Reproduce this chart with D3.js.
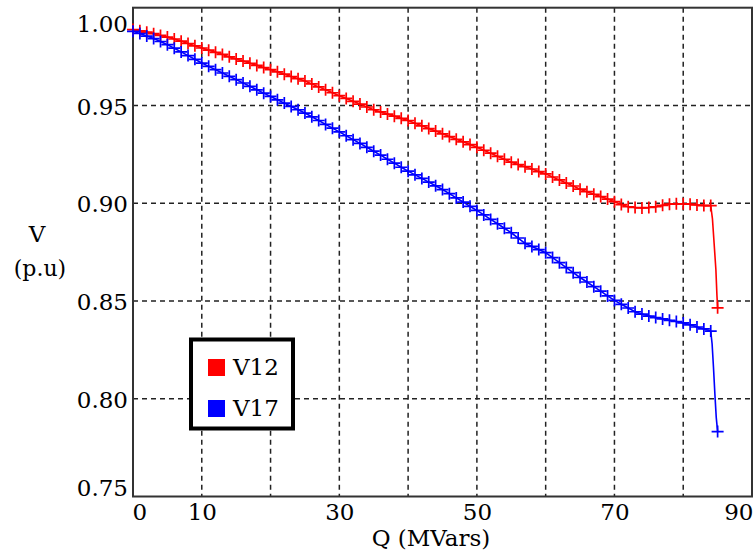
<!DOCTYPE html>
<html>
<head>
<meta charset="utf-8">
<script src="https://cdn.jsdelivr.net/npm/d3@7"></script>
<style>
  html, body { margin: 0; padding: 0; background: #fff; }
  svg { display: block; }
  text { font-family: "DejaVu Serif", serif; fill: #000; }
</style>
</head>
<body>
<svg id="chart" width="756" height="556"></svg>
<script>
// ---- data ----
const qMain = d3.range(0, 85); // 0..84 MVars
const v12 = [
  0.9888,0.9882,0.9875,0.9867,0.9858,0.9850,0.9840,0.9829,0.9817,0.9805,
  0.9794,0.9783,0.9772,0.9761,0.9749,0.9738,0.9727,0.9716,0.9705,0.9694,
  0.9683,0.9672,0.9660,0.9648,0.9637,0.9625,0.9610,0.9595,0.9580,0.9565,
  0.9550,0.9536,0.9521,0.9507,0.9492,0.9478,0.9467,0.9456,0.9445,0.9434,
  0.9423,0.9409,0.9396,0.9382,0.9369,0.9355,0.9341,0.9327,0.9314,0.9300,
  0.9286,0.9271,0.9256,0.9240,0.9225,0.9210,0.9198,0.9187,0.9175,0.9162,
  0.9150,0.9134,0.9119,0.9103,0.9088,0.9072,0.9059,0.9046,0.9034,0.9021,
  0.9008,0.8993,0.8982,0.8978,0.8976,0.8978,0.8982,0.8989,0.8995,0.8997,
  0.8997,0.8995,0.8991,0.8988,0.8988
];
const v17 = [
  0.9879,0.9868,0.9855,0.9842,0.9827,0.9811,0.9793,0.9774,0.9755,0.9736,
  0.9717,0.9700,0.9683,0.9666,0.9649,0.9632,0.9615,0.9598,0.9580,0.9563,
  0.9546,0.9529,0.9512,0.9495,0.9478,0.9461,0.9442,0.9423,0.9403,0.9384,
  0.9365,0.9345,0.9325,0.9306,0.9286,0.9266,0.9246,0.9225,0.9205,0.9184,
  0.9164,0.9145,0.9127,0.9108,0.9089,0.9070,0.9049,0.9027,0.9006,0.8984,
  0.8963,0.8940,0.8917,0.8895,0.8872,0.8849,0.8822,0.8795,0.8779,0.8763,
  0.8747,0.8722,0.8696,0.8671,0.8645,0.8620,0.8597,0.8573,0.8550,0.8526,
  0.8503,0.8483,0.8464,0.8445,0.8433,0.8423,0.8415,0.8408,0.8401,0.8395,
  0.8388,0.8378,0.8367,0.8357,0.8346
];
// collapse segment (no markers except final point)
const qDrop12 = [84, 84.25, 84.5, 84.75, 84.9, 85];
const vDrop12 = [0.8988, 0.892, 0.879, 0.866, 0.853, 0.8465];
const qDrop17 = [84, 84.2, 84.4, 84.6, 84.8, 85];
const vDrop17 = [0.8346, 0.828, 0.816, 0.8026, 0.7905, 0.7832];

const seriesNames = ["V12", "V17"];
const seriesColors = ["#ff0000", "#0000ff"];
const xTicks = [0, 10, 30, 50, 70, 90];
const xGrid = [10, 20, 30, 40, 50, 60, 70, 80];
const yTicks = [0.75, 0.80, 0.85, 0.90, 0.95, 1.00];
const yGrid = [0.80, 0.85, 0.90, 0.95];

// ---- layout ----
const L = 133, R = 752, T = 7.7, B = 496.5;
const svg = d3.select("#chart");
svg.append("rect").attr("width", 756).attr("height", 556).attr("fill", "#fff");

const x = d3.scaleLinear().domain([0, 90]).range([L, R]);
const y = d3.scaleLinear().domain([0.75, 1.0]).range([B, T]);

// grid
const grid = svg.append("g").attr("stroke", "#222").attr("stroke-width", 1.5)
  .attr("stroke-dasharray", "5,4");
grid.selectAll("line.gx").data(xGrid).join("line").attr("class", "gx")
  .attr("x1", d => x(d)).attr("x2", d => x(d)).attr("y1", T).attr("y2", B);
grid.selectAll("line.gy").data(yGrid).join("line").attr("class", "gy")
  .attr("x1", L).attr("x2", R).attr("y1", d => y(d)).attr("y2", d => y(d));

// axes (labels only)
const fs = 23;
const xAxis = svg.append("g").attr("transform", `translate(0,${B})`)
  .call(d3.axisBottom(x).tickValues(xTicks).tickSize(0).tickPadding(7).tickFormat(d3.format("d")));
xAxis.select(".domain").remove();
xAxis.selectAll("text").attr("font-size", fs).attr("font-family", "DejaVu Serif").attr("fill", "#000")
  .each(function(d) {
    const t = d3.select(this);
    if (d === 0) t.attr("text-anchor", "start").attr("x", -1);
    if (d === 90) t.attr("text-anchor", "end").attr("x", 1);
  });

const yAxis = svg.append("g").attr("transform", `translate(${L},0)`)
  .call(d3.axisLeft(y).tickValues(yTicks).tickSize(0).tickPadding(5).tickFormat(d3.format(".2f")));
yAxis.select(".domain").remove();
yAxis.selectAll("text").attr("font-size", fs).attr("font-family", "DejaVu Serif").attr("fill", "#000")
  .attr("dy", "0.38em")
  .each(function(d) {
    const t = d3.select(this);
    if (Math.abs(d - 1.0) < 1e-9) t.attr("y", 15);
    if (Math.abs(d - 0.75) < 1e-9) t.attr("y", -9.5);
  });

// frame
svg.append("rect").attr("x", L).attr("y", T).attr("width", R - L).attr("height", B - T)
  .attr("fill", "none").attr("stroke", "#333").attr("stroke-width", 2);

// series
const line = d3.line().x(d => x(d[0])).y(d => y(d[1]));
const mainData = [qMain.map((q, i) => [q, v12[i]]), qMain.map((q, i) => [q, v17[i]])];
const dropData = [qDrop12.map((q, i) => [q, vDrop12[i]]), qDrop17.map((q, i) => [q, vDrop17[i]])];

mainData.forEach((pts, k) => {
  const col = seriesColors[k];
  const g = svg.append("g");
  g.append("path").attr("d", line(pts)).attr("fill", "none").attr("stroke", col).attr("stroke-width", 1.6);
  g.append("path").attr("d", line(dropData[k])).attr("fill", "none").attr("stroke", col).attr("stroke-width", 1.6);
  const markers = pts.concat([dropData[k][dropData[k].length - 1]]);
  const s = 6;
  g.selectAll("path.m").data(markers).join("path").attr("class", "m")
    .attr("d", d => `M${x(d[0]) - s},${y(d[1])}H${x(d[0]) + s}M${x(d[0])},${y(d[1]) - s}V${y(d[1]) + s}`)
    .attr("stroke", col).attr("stroke-width", 1.7).attr("fill", "none");
});

// axis titles
svg.append("text").attr("x", 431).attr("y", 546).attr("text-anchor", "middle")
  .attr("font-size", fs).text("Q (MVars)");
svg.append("text").attr("x", 37).attr("y", 242).attr("text-anchor", "middle")
  .attr("font-size", fs).text("V");
svg.append("text").attr("x", 40).attr("y", 276).attr("text-anchor", "middle")
  .attr("font-size", 22).text("(p.u)");

// legend
const lg = svg.append("g");
lg.append("rect").attr("x", 191).attr("y", 339.5).attr("width", 102).attr("height", 89)
  .attr("fill", "#fff").attr("stroke", "#000").attr("stroke-width", 4);
seriesNames.forEach((name, i) => {
  lg.append("rect").attr("x", 208).attr("y", 359 + i * 41).attr("width", 17).attr("height", 17)
    .attr("fill", seriesColors[i]);
  lg.append("text").attr("x", 233).attr("y", 375 + i * 41).attr("font-size", fs).text(name);
});
</script>
</body>
</html>
